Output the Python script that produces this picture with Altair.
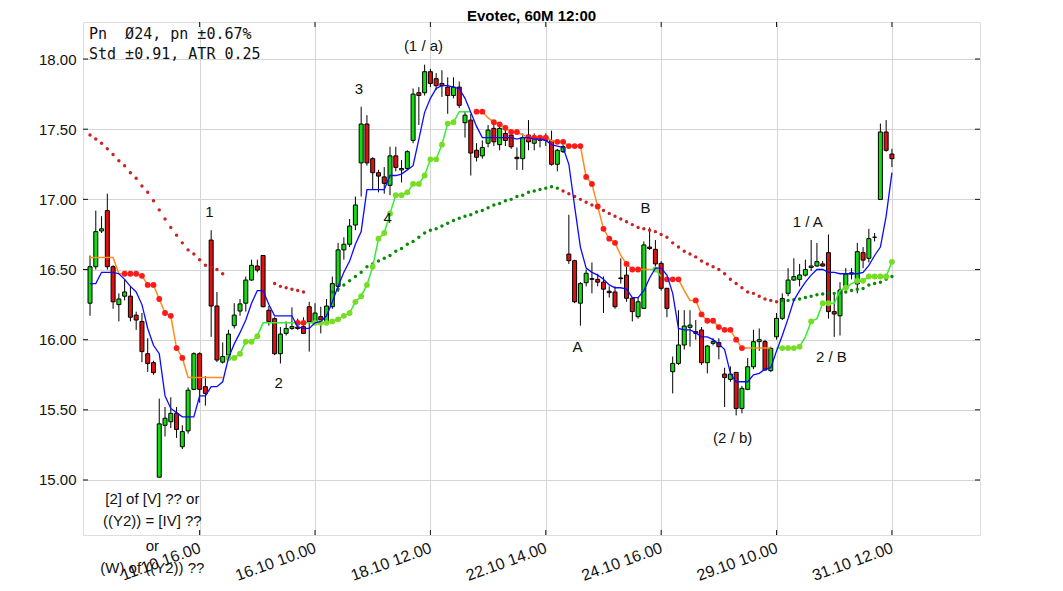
import altair as alt
import pandas as pd

# ---------------- data ----------------
opens = [16.26, 16.52, 16.775, 16.92, 16.52, 16.25, 16.31, 16.31, 16.175, 16.13,
         15.90, 15.836, 15.02, 15.39, 15.415, 15.475, 15.237, 15.35, 15.646, 15.90,
         15.665, 16.71, 16.24, 15.84, 15.89, 16.10, 16.204, 16.26, 16.425, 16.525,
         16.60, 16.21, 16.15, 15.90, 16.045, 16.08, 16.09, 16.093, 16.235, 16.116,
         16.164, 16.128, 16.235, 16.38, 16.64, 16.68, 16.817, 17.26, 17.537, 17.29,
         17.19, 17.16, 17.10, 17.31, 17.21, 17.22, 17.42, 17.76, 17.76, 17.91,
         17.86, 17.826, 17.80, 17.74, 17.80, 17.546, 17.565, 17.35, 17.31, 17.40,
         17.506, 17.39, 17.47, 17.458, 17.30, 17.29, 17.458, 17.40, 17.44, 17.446,
         17.42, 17.25, 17.34, 16.61, 16.563, 16.26, 16.406, 16.43, 16.43, 16.41,
         16.345, 16.34, 16.44, 16.46, 16.295, 16.164, 16.223, 16.66, 16.644, 16.544,
         16.366, 15.772, 15.831, 15.962, 16.088, 16.057, 16.069, 15.836, 15.974, 15.979,
         15.755, 15.717, 15.767, 15.51, 15.646, 15.807, 15.986, 15.986, 15.779, 16.021,
         16.152, 16.33, 16.425, 16.43, 16.46, 16.515, 16.525, 16.54, 16.62, 16.20,
         16.17, 16.366, 16.468, 16.397, 16.62, 16.58, 16.73, 16.999, 17.48, 17.323]
highs = [16.60, 16.92, 16.88, 17.04, 16.53, 16.33, 16.43, 16.38, 16.20, 16.19,
         16.01, 15.85, 15.58, 15.52, 15.59, 15.52, 15.39, 15.66, 15.91, 15.91,
         15.74, 16.78, 16.34, 15.98, 16.07, 16.26, 16.29, 16.45, 16.57, 16.57,
         16.60, 16.24, 16.16, 16.09, 16.13, 16.23, 16.15, 16.16, 16.27, 16.26,
         16.235, 16.29, 16.45, 16.69, 16.73, 16.86, 17.02, 17.66, 17.60, 17.30,
         17.21, 17.23, 17.375, 17.375, 17.28, 17.35, 17.79, 17.80, 17.96, 17.93,
         17.90, 17.92, 17.87, 17.87, 17.84, 17.63, 17.61, 17.40, 17.42, 17.53,
         17.55, 17.53, 17.50, 17.48, 17.37, 17.47, 17.565, 17.47, 17.46, 17.47,
         17.49, 17.36, 17.39, 16.89, 16.57, 16.41, 16.50, 16.55, 16.47, 16.45,
         16.38, 16.38, 16.58, 16.52, 16.30, 16.30, 16.70, 16.80, 16.71, 16.56,
         16.37, 15.88, 16.21, 16.21, 16.21, 16.14, 16.09, 15.96, 16.01, 16.01,
         15.80, 15.81, 15.77, 15.67, 15.87, 16.07, 16.08, 16.00, 15.95, 16.19,
         16.33, 16.51, 16.58, 16.54, 16.57, 16.71, 16.69, 16.56, 16.75, 16.33,
         16.41, 16.51, 16.51, 16.69, 16.66, 16.79, 16.76, 17.54, 17.565, 17.36]
lows = [16.17, 16.50, 16.76, 16.50, 16.22, 16.13, 16.28, 16.13, 16.07, 15.84,
        15.77, 15.75, 15.02, 15.31, 15.37, 15.30, 15.22, 15.33, 15.64, 15.55,
        15.53, 16.02, 15.84, 15.83, 15.85, 16.08, 16.17, 16.20, 16.42, 16.48,
        16.23, 16.10, 15.89, 15.83, 16.03, 16.07, 16.07, 16.04, 15.915, 16.11,
        16.045, 16.12, 16.22, 16.34, 16.57, 16.66, 16.78, 17.02, 17.24, 17.07,
        17.05, 17.04, 17.03, 17.20, 17.12, 17.21, 17.40, 17.53, 17.74, 17.80,
        17.78, 17.73, 17.61, 17.72, 17.65, 17.44, 17.17, 17.27, 17.29, 17.37,
        17.38, 17.35, 17.38, 17.36, 17.21, 17.21, 17.35, 17.35, 17.37, 17.38,
        17.24, 17.20, 17.33, 16.54, 16.26, 16.10, 16.38, 16.33, 16.38, 16.19,
        16.30, 16.22, 16.40, 16.27, 16.13, 16.15, 16.22, 16.64, 16.52, 16.35,
        16.16, 15.617, 15.82, 15.93, 15.95, 16.00, 15.82, 15.76, 15.96, 15.86,
        15.52, 15.70, 15.46, 15.475, 15.64, 15.79, 15.92, 15.78, 15.77, 16.00,
        16.14, 16.31, 16.42, 16.38, 16.45, 16.49, 16.52, 16.52, 16.15, 16.02,
        16.03, 16.35, 16.43, 16.33, 16.51, 16.55, 16.70, 16.999, 17.34, 17.23]
closes = [16.52, 16.77, 16.79, 16.52, 16.27, 16.29, 16.34, 16.16, 16.14, 15.915,
          15.83, 15.765, 15.40, 15.44, 15.475, 15.36, 15.345, 15.64, 15.90, 15.646,
          15.617, 16.24, 15.855, 15.88, 16.04, 16.175, 16.255, 16.425, 16.53, 16.496,
          16.235, 16.128, 15.90, 16.04, 16.08, 16.093, 16.08, 16.045, 16.128, 16.19,
          16.14, 16.24, 16.40, 16.64, 16.68, 16.81, 16.96, 17.537, 17.26, 17.19,
          17.166, 17.114, 17.31, 17.228, 17.22, 17.34, 17.75, 17.74, 17.91, 17.826,
          17.81, 17.81, 17.74, 17.80, 17.67, 17.60, 17.33, 17.30, 17.37, 17.494,
          17.41, 17.506, 17.42, 17.375, 17.29, 17.44, 17.41, 17.44, 17.42, 17.42,
          17.25, 17.35, 17.375, 16.563, 16.27, 16.40, 16.473, 16.435, 16.41, 16.36,
          16.335, 16.235, 16.435, 16.295, 16.20, 16.27, 16.675, 16.65, 16.54, 16.366,
          16.223, 15.831, 15.962, 16.097, 16.104, 16.045, 15.836, 15.955, 15.986, 15.95,
          15.73, 15.755, 15.51, 15.653, 15.807, 15.986, 16.00, 15.784, 15.938, 16.152,
          16.294, 16.425, 16.449, 16.461, 16.50, 16.525, 16.556, 16.525, 16.20, 16.183,
          16.354, 16.468, 16.477, 16.627, 16.567, 16.72, 16.73, 17.48, 17.35, 17.29]

fast_line = [16.40, 16.40, 16.48, 16.48, 16.48, 16.47, 16.43, 16.38, 16.34, 16.25,
             16.08, 15.96, 15.90, 15.60, 15.51, 15.48, 15.45, 15.45, 15.45, 15.60,
             15.60, 15.665, 15.665, 15.70, 15.87, 15.97, 16.05, 16.14, 16.26, 16.35,
             16.35, 16.25, 16.17, 16.17, 16.17, 16.17, 16.09, 16.08, 16.08, 16.12,
             16.13, 16.17, 16.27, 16.38, 16.48, 16.56, 16.68, 16.77, 17.07, 17.07,
             17.07, 17.07, 17.17, 17.17, 17.18, 17.21, 17.24, 17.43, 17.62, 17.72,
             17.79, 17.81, 17.81, 17.80, 17.79, 17.72, 17.62, 17.52, 17.44, 17.44,
             17.44, 17.44, 17.44, 17.44, 17.43, 17.44, 17.44, 17.43, 17.43, 17.42,
             17.39, 17.38, 17.37, 17.25, 16.95, 16.66, 16.51, 16.48, 16.46, 16.43,
             16.39, 16.37, 16.37, 16.36, 16.30, 16.30, 16.35, 16.44, 16.51, 16.51,
             16.46, 16.33, 16.08, 16.07, 16.07, 16.05, 16.02, 16.02, 16.00, 15.97,
             15.93, 15.76, 15.70, 15.70, 15.70, 15.75, 15.76, 15.79, 15.80, 15.92,
             16.03, 16.15, 16.28, 16.35, 16.41, 16.46, 16.50, 16.50, 16.48, 16.48,
             16.47, 16.47, 16.47, 16.47, 16.48, 16.53, 16.60, 16.66, 16.88, 17.19]

N = None
stop_down_line = ([16.585] * 5 + [16.47] * 4 + [16.455, 16.39, 16.39, 16.29, 16.19, 16.17, 15.94, 15.87]
                  + [15.73] * 7 + [N] * 12 + [16.12, 16.12] + [N] * 29
                  + [17.625, 17.625, 17.58, 17.55, 17.535, 17.51, 17.48, 17.48, 17.46, 17.44,
                     17.44, 17.44, 17.44, 17.42, 17.41, 17.41, 17.38, 17.38, 17.38, 17.16,
                     17.11, 16.95, 16.79, 16.72, 16.69, 16.60, 16.54, 16.50, 16.50, 16.50, 16.50]
                  + [N] * 2
                  + [16.43, 16.43, 16.43, 16.35, 16.28, 16.28, 16.18, 16.135, 16.135, 16.09,
                     16.07, 16.07, 16.00, 15.94, 15.94, 15.94, 15.94, 15.94, 15.94]
                  + [N] * 21)
stop_down_dots = ([N] * 6 + [16.47, 16.47, 16.47, 16.455, 16.39, 16.39, 16.29, 16.19, 16.17, 15.94, 15.87]
                  + [N] * 19 + [16.12, 16.12] + [N] * 29
                  + [17.625, 17.625, N, 17.55, 17.535, 17.51, 17.48, 17.48, N, 17.44,
                     17.44, 17.44, 17.44, N, 17.41, 17.41, 17.38, 17.38, 17.38, 17.16,
                     17.11, 16.95, 16.79, 16.72, 16.69, N, 16.54, 16.50, 16.50, N, N]
                  + [N] * 2
                  + [16.43, 16.43, 16.43, N, N, 16.28, 16.18, 16.135, 16.135, 16.09,
                     16.07, 16.07, 16.00, 15.94, N, N, N, N, N]
                  + [N] * 21)
stop_up_line = ([N] * 24
                + [15.87, 15.87, 15.90, 15.985, 15.985, 16.025, 16.12, 16.12, 16.12, 16.12, 16.12, 16.12]
                + [16.12, 16.12]
                + [16.12, 16.12, 16.12, 16.12, 16.13, 16.145, 16.17, 16.19, 16.27, 16.31,
                   16.39, 16.52, 16.72, 16.76, 16.90, 17.03, 17.03, 17.05, 17.11, 17.11,
                   17.17, 17.285, 17.285, 17.39, 17.54, 17.55, 17.625, 17.625, 17.625]
                + [N] * 30 + [16.50, 16.50, 16.45] + [N] * 19
                + [15.94, 15.94, 15.94, 15.94, 15.95, 16.02, 16.13, 16.15, 16.26, 16.26,
                   16.26, 16.35, 16.37, 16.40, 16.42, 16.42, 16.45, 16.45, 16.45, 16.45, 16.555])
stop_up_dots = ([N] * 24 + [15.87, 15.87, 15.90, 15.985, 15.985, 16.025] + [N] * 9
                + [16.12, 16.12, 16.12, 16.13, 16.145, 16.17, 16.19, 16.27, 16.31, 16.39,
                   16.52, 16.72, 16.76, 16.90, 17.03, 17.03, 17.05, 17.11, 17.11, 17.17,
                   17.285, 17.285, 17.39, 17.54, 17.55]
                + [N] * 34 + [16.50] + [N] * 21
                + [15.94, 15.94, 15.94, 15.95, N, 16.13, N, 16.26, 16.26, N,
                   N, 16.37, N, 16.42, 16.42, 16.45, 16.45, 16.45, 16.45, 16.555])
slow_down = ([17.458, 17.43, 17.40, 17.36, 17.32, 17.275, 17.24, 17.19, 17.15, 17.095,
              17.05, 16.99, 16.925, 16.86, 16.80, 16.745, 16.69, 16.64, 16.61, 16.57,
              16.53, 16.515, 16.50, 16.47]
             + [N] * 8 + [16.40, 16.38, 16.37, 16.36, 16.35, 16.34] + [N] * 44
             + [17.06, 17.04, 17.02, 17.00, 16.98, 16.96, 16.94, 16.92, 16.90, 16.88,
                16.86, 16.84, 16.82, 16.80, 16.79, 16.78, 16.77, 16.75, 16.73, 16.69,
                16.66, 16.63, 16.61, 16.59, 16.56, 16.54, 16.52, 16.50, 16.47, 16.43,
                16.40, 16.37, 16.34, 16.33, 16.31, 16.29, 16.28, 16.27]
             + [N] * 20)
slow_up = ([N] * 42
           + [16.34, 16.36, 16.39, 16.42, 16.45, 16.48, 16.52, 16.54, 16.56, 16.58,
              16.60, 16.63, 16.65, 16.68, 16.70, 16.73, 16.76, 16.78, 16.79, 16.81,
              16.83, 16.85, 16.865, 16.88, 16.89, 16.91, 16.92, 16.94, 16.96, 16.97,
              16.99, 17.00, 17.02, 17.03, 17.05, 17.06, 17.07, 17.08, 17.09, 17.08]
           + [N] * 38
           + [16.28, 16.28, 16.285, 16.29, 16.30, 16.31, 16.32, 16.325, 16.33, 16.33,
              16.335, 16.34, 16.35, 16.36, 16.365, 16.39, 16.40, 16.41, 16.43, 16.45])

tick_bars = [19, 39, 59, 79, 99, 119, 139]
tick_texts = ["11.10 16.00", "16.10 10.00", "18.10 12.00", "22.10 14.00",
              "24.10 16.00", "29.10 10.00", "31.10 12.00"]
price_ticks = [15.0, 15.5, 16.0, 16.5, 17.0, 17.5, 18.0]

wave_texts = ["1", "2", "3", "4", "(1 / a)", "A", "B", "(2 / b)", "1 / A", "2 / B",
              "[2] of [V] ?? or", "((Y2)) = [IV] ??", "or", "(W) of ((Y2)) ??"]
wave_bar = [20.7, 32.7, 46.6, 51.6, 57.8, 84.5, 96.3, 111.4, 124.4, 128.5,
            10.8, 10.8, 10.8, 10.8]
wave_price = [16.91, 15.69, 17.79, 16.87, 18.09, 15.95, 16.94, 15.30, 16.84, 15.88,
              14.865, 14.708, 14.53, 14.373]

title_text = "Evotec, 60M 12:00"
info_lines = ["Pn\u00a0\u00a0\u00d824, pn \u00b10.67%", "Std \u00b10.91, ATR 0.25"]

# ---------------- build tables ----------------
n = len(opens)
candles = pd.DataFrame({"i": list(range(n)), "o": opens, "h": highs, "l": lows, "c": closes})
candles["up"] = candles["c"] >= candles["o"]


def segs(vals):
    rows, seg = [], 0
    for i, v in enumerate(vals):
        if v is None:
            seg += 1
            continue
        rows.append({"i": i, "v": v, "seg": seg})
    return pd.DataFrame(rows)


W, H = 897, 513
xs = alt.Scale(domain=[-0.35, 153.4], nice=False, zero=False)
ys = alt.Scale(domain=[14.608, 18.264], nice=False, zero=False)
FONT = "Liberation Sans"

label_map = "{" + ",".join(f"'{b}':'{t}'" for b, t in zip(tick_bars, tick_texts)) + "}"
x_axis = alt.Axis(values=tick_bars, labelExpr=f"{label_map}[datum.value]", labelAngle=-20,
                  labelAlign="right", labelBaseline="middle", labelPadding=12, labelFontSize=16,
                  labelFont=FONT, labelColor="#111", grid=True, gridColor="#d4d4d4",
                  ticks=False, domain=False, title=None, labelOverlap=False, labelFlush=False)
y_axis = alt.Axis(values=price_ticks, format=".2f", labelFontSize=15, labelFont=FONT,
                  labelColor="#111", labelPadding=7, grid=True, gridColor="#d4d4d4",
                  ticks=False, domain=False, title=None)

base = alt.Chart(candles)
wicks = base.mark_rule(color="#000", strokeWidth=1).encode(
    x=alt.X("i:Q", scale=xs, axis=x_axis),
    y=alt.Y("l:Q", scale=ys, axis=y_axis),
    y2="h:Q")
bodies = base.mark_bar(size=4, stroke="#000", strokeWidth=1).encode(
    x=alt.X("i:Q", scale=xs),
    y=alt.Y("o:Q", scale=ys),
    y2="c:Q",
    color=alt.Color("up:N", scale=alt.Scale(domain=[True, False], range=["#11dd11", "#dd1111"]),
                    legend=None))


def line_layer(vals, color, width):
    return alt.Chart(segs(vals)).mark_line(color=color, strokeWidth=width).encode(
        x=alt.X("i:Q", scale=xs), y=alt.Y("v:Q", scale=ys), detail="seg:N")


def dot_layer(vals, color, size):
    return alt.Chart(segs(vals)).mark_circle(color=color, size=size, opacity=1).encode(
        x=alt.X("i:Q", scale=xs), y=alt.Y("v:Q", scale=ys))


slow_dn_dots = dot_layer(slow_down, "#cc2222", 12)
slow_up_dots = dot_layer(slow_up, "#0a8a0a", 12)
dn_line = line_layer(stop_down_line, "#ff8c1a", 1.5)
dn_dots = dot_layer(stop_down_dots, "#ff1a1a", 34)
up_line = line_layer(stop_up_line, "#33ee33", 1.5)
up_dots = dot_layer(stop_up_dots, "#77dd22", 34)
blue = line_layer(fast_line, "#0a0aff", 1.3)

waves = pd.DataFrame({"i": wave_bar, "v": wave_price, "t": wave_texts})
wave_layer = alt.Chart(waves).mark_text(font=FONT, fontSize=15, color="#111",
                                        align="center", baseline="middle").encode(
    x=alt.X("i:Q", scale=xs), y=alt.Y("v:Q", scale=ys), text="t:N")


def pixel_text(txt, xpix, ypix, **kw):
    return alt.Chart(pd.DataFrame({"t": [txt]})).mark_text(**kw).encode(
        x=alt.value(xpix), y=alt.value(ypix), text="t:N")


info1 = pixel_text(info_lines[0], 6, 12, font="DejaVu Sans Mono", fontSize=15, color="#111",
                   align="left", baseline="middle")
info2 = pixel_text(info_lines[1], 6, 32, font="DejaVu Sans Mono", fontSize=15, color="#111",
                   align="left", baseline="middle")
title_layer = pixel_text(title_text, W / 2, -13, font=FONT, fontSize=15, fontWeight="bold",
                         color="#000", align="center", baseline="top")

# inward tick marks on the frame
tdf = pd.DataFrame({"i": tick_bars})
pdf = pd.DataFrame({"v": price_ticks})
tick_bottom = alt.Chart(tdf).mark_rule(color="#111", strokeWidth=1).encode(
    x=alt.X("i:Q", scale=xs), y=alt.value(H), y2=alt.value(H - 5))
tick_top = alt.Chart(tdf).mark_rule(color="#111", strokeWidth=1).encode(
    x=alt.X("i:Q", scale=xs), y=alt.value(0), y2=alt.value(5))
tick_left = alt.Chart(pdf).mark_rule(color="#111", strokeWidth=1).encode(
    y=alt.Y("v:Q", scale=ys), x=alt.value(0), x2=alt.value(5))
tick_right = alt.Chart(pdf).mark_rule(color="#111", strokeWidth=1).encode(
    y=alt.Y("v:Q", scale=ys), x=alt.value(W), x2=alt.value(W - 5))

chart = alt.layer(
    wicks, bodies, slow_dn_dots, slow_up_dots, dn_line, up_line, dn_dots, up_dots, blue,
    wave_layer, info1, info2, title_layer, tick_bottom, tick_top, tick_left, tick_right
).properties(
    width=W, height=H,
    autosize=alt.AutoSizeParams(type="none"),
    padding={"left": 75, "top": 14, "right": 75, "bottom": 48},
).configure_view(stroke="#333", strokeWidth=1).configure(background="white")

chart.save("out.html", embed_options={"renderer": "svg", "actions": False})
